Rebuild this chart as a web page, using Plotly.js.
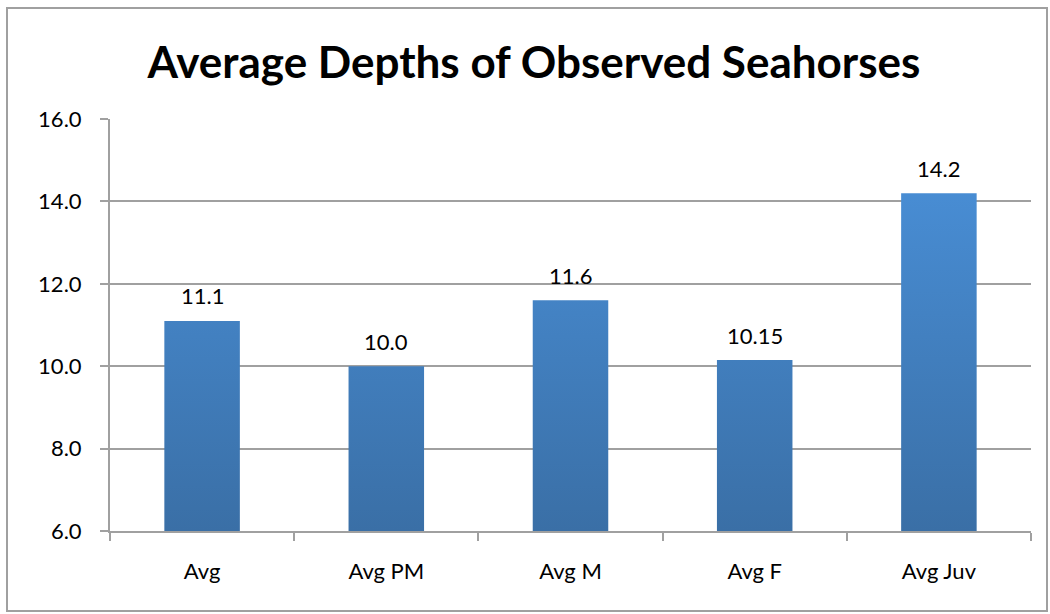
<!DOCTYPE html>
<html>
<head>
<meta charset="utf-8">
<script src="https://cdn.plot.ly/plotly-3.0.1.min.js"></script>
<style>html,body{margin:0;padding:0;background:#fff}#chart{width:1050px;height:614px}</style>
</head>
<body>
<div id="chart"></div>
<script>
const categories = ["Avg", "Avg PM", "Avg M", "Avg F", "Avg Juv"];
const depths = [11.1, 10.0, 11.6, 10.15, 14.2];
const depthLabels = ["11.1", "10.0", "11.6", "10.15", "14.2"];
const yTickVals = [6, 8, 10, 12, 14, 16];
const yTickText = ["6.0", "8.0", "10.0", "12.0", "14.0", "16.0"];
const axisBase = 6;

const L = 110, R = 19, T = 119, B = 83, W = 1050, H = 614;
const pw = W - L - R, ph = H - T - B;
const FONT = "Lato, 'Open Sans', sans-serif";

const trace = {
  type: "bar",
  x: categories,
  y: depths.map(v => v - axisBase),
  base: axisBase,
  marker: {color: "#4283c9", line: {width: 0}},
  hoverinfo: "none"
};

const annotations = categories.map((c, i) => ({
  x: c, y: depths[i], xref: "x", yref: "y",
  text: depthLabels[i], showarrow: false,
  yanchor: "middle", yshift: 25,
  font: {family: FONT, size: 22, color: "#000"}
}));

const layout = {
  width: W, height: H,
  margin: {l: L, r: R, t: T, b: B},
  paper_bgcolor: "#fff", plot_bgcolor: "#fff",
  showlegend: false,
  bargap: 0.59,
  title: {
    text: "<b>Average Depths of Observed Seahorses</b>",
    font: {family: FONT, size: 44, color: "#000"},
    x: 534 / W, xanchor: "center", y: 1 - 63 / H, yanchor: "middle"
  },
  xaxis: {
    type: "category",
    showline: true, linecolor: "#a0a0a0", linewidth: 2,
    ticks: "outside", tickson: "boundaries", ticklen: 8, tickwidth: 2, tickcolor: "#a0a0a0",
    ticklabelstandoff: 20,
    tickfont: {family: FONT, size: 22, color: "#000"},
    showgrid: false, zeroline: false, fixedrange: true
  },
  yaxis: {
    range: [6, 16],
    tickvals: yTickVals, ticktext: yTickText,
    showline: true, linecolor: "#a0a0a0", linewidth: 2,
    ticks: "outside", ticklen: 8, tickwidth: 2, tickcolor: "#a0a0a0",
    ticklabelstandoff: 14,
    showgrid: true, gridcolor: "#a0a0a0", gridwidth: 2,
    tickfont: {family: FONT, size: 22, color: "#000"},
    zeroline: false, fixedrange: true
  },
  annotations: annotations,
  shapes: [{
    type: "rect", xref: "paper", yref: "paper",
    x0: (7 - L) / pw, x1: (1047 - L) / pw,
    y0: (H - B - 611) / ph, y1: (H - B - 8) / ph,
    line: {color: "#a0a0a0", width: 2}, fillcolor: "rgba(0,0,0,0)", layer: "below"
  }]
};

Plotly.newPlot("chart", [trace], layout, {staticPlot: true, displayModeBar: false}).then(function (gd) {
  const svg = gd.querySelector("svg.main-svg");
  const ns = "http://www.w3.org/2000/svg";
  let defs = svg.querySelector("defs");
  if (!defs) { defs = document.createElementNS(ns, "defs"); svg.insertBefore(defs, svg.firstChild); }
  const lg = document.createElementNS(ns, "linearGradient");
  lg.setAttribute("id", "barGrad");
  lg.setAttribute("gradientUnits", "userSpaceOnUse");
  lg.setAttribute("x1", "0"); lg.setAttribute("y1", "0");
  lg.setAttribute("x2", "0"); lg.setAttribute("y2", String(ph));
  const s1 = document.createElementNS(ns, "stop");
  s1.setAttribute("offset", "0"); s1.setAttribute("stop-color", "#4b93dd");
  const s2 = document.createElementNS(ns, "stop");
  s2.setAttribute("offset", "1"); s2.setAttribute("stop-color", "#3a6fa6");
  lg.appendChild(s1); lg.appendChild(s2); defs.appendChild(lg);
  gd.querySelectorAll(".bars .point path").forEach(function (p) {
    p.style.fill = "url(#barGrad)";
  });
});
</script>
</body>
</html>
